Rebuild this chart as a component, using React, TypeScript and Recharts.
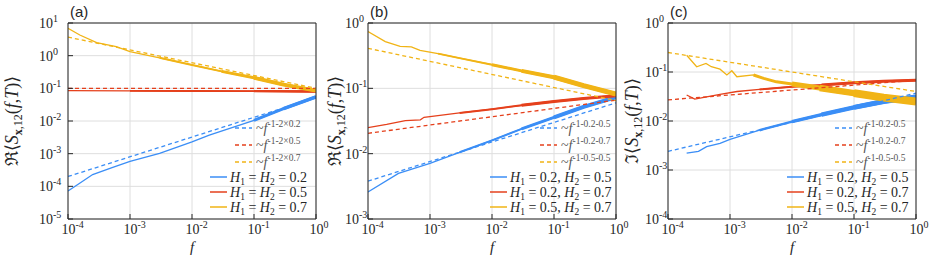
import React from "react";
import { LineChart, Line, XAxis, YAxis, CartesianGrid, Legend } from "recharts";

const BLUE = "#3b8ef6";
const RED = "#e5401c";
const YELLOW = "#f1b416";
const INK = "#262626";
const GRID = "#dedede";
const SERIF = "Liberation Serif, Times New Roman, serif";
const SANS = "Liberation Sans, Arial, sans-serif";

// shared axis ticks
const X_TICKS = [1e-4, 1e-3, 1e-2, 1e-1, 1];
const Y_TICKS_A = [1e-5, 1e-4, 1e-3, 1e-2, 1e-1, 1, 10];
const Y_TICKS_B = [1e-3, 1e-2, 1e-1, 1];
const Y_TICKS_C = [1e-4, 1e-3, 1e-2, 1e-1, 1];
const FIT_F = [1e-4, 1];

// panel (a) : real part, H1 = H2
const A_BLUE_F = [1e-4, 1.5e-4, 2.5e-4, 5e-4, 1e-3, 3e-3, 1e-2, 1.9e-2, 1e-1, 3e-1, 1];
const A_BLUE = [7.2e-5, 1.2e-4, 2.3e-4, 3.7e-4, 5.8e-4, 1.02e-3, 2.3e-3, 3.7e-3, 1.05e-2, 2.4e-2, 5.5e-2];
const A_RED_F = [1e-4, 1e-3, 1e-2, 1e-1, 1];
const A_RED = [0.085, 0.084, 0.083, 0.082, 0.08];
const A_YEL_F = [1e-4, 1.55e-4, 2.9e-4, 6e-4, 1e-3, 3e-3, 1e-2, 3e-2, 1e-1, 3e-1, 1];
const A_YEL = [6.9, 4.3, 2.5, 1.9, 1.32, 0.86, 0.52, 0.33, 0.21, 0.13, 0.085];
const A_FIT_BLUE = [2.0e-4, 0.052];
const A_FIT_RED = [0.1, 0.1];
const A_FIT_YEL = [3.7, 0.1];

// panel (b) : real part, H1 != H2
const B_BLUE_F = [1e-4, 3.1e-4, 1e-3, 3e-3, 1e-2, 3e-2, 1e-1, 3e-1, 1];
const B_BLUE = [2.6e-3, 5e-3, 7.1e-3, 1.05e-2, 1.6e-2, 2.4e-2, 3.6e-2, 5.2e-2, 7.3e-2];
const B_RED_F = [1e-4, 2e-4, 4e-4, 7e-4, 8e-4, 1e-3, 3e-3, 1e-2, 3e-2, 1e-1, 3e-1, 1];
const B_RED = [0.025, 0.028, 0.032, 0.033, 0.036, 0.037, 0.042, 0.048, 0.055, 0.063, 0.07, 0.077];
const B_YEL_F = [1e-4, 1.9e-4, 3.3e-4, 5e-4, 6.9e-4, 1.35e-3, 3e-3, 1e-2, 3e-2, 1e-1, 3e-1, 1];
const B_YEL = [0.74, 0.52, 0.44, 0.43, 0.38, 0.34, 0.29, 0.23, 0.185, 0.148, 0.11, 0.082];
const B_FIT_BLUE = [3.8e-3, 0.06];
const B_FIT_RED = [0.0205, 0.066];
const B_FIT_YEL = [0.41, 0.065];

// panel (c) : imaginary part
const C_BLUE_F = [2e-4, 3.1e-4, 4.2e-4, 6.9e-4, 1e-3, 3e-3, 1e-2, 3e-2, 1e-1, 3e-1, 1];
const C_BLUE = [0.0022, 0.0024, 0.003, 0.0035, 0.0042, 0.0065, 0.0097, 0.0135, 0.019, 0.025, 0.031];
const C_RED_F = [2e-4, 2.7e-4, 4.2e-4, 6.9e-4, 1.3e-3, 3e-3, 1e-2, 3e-2, 1e-1, 3e-1, 1];
const C_RED = [0.034, 0.028, 0.031, 0.035, 0.04, 0.044, 0.05, 0.054, 0.06, 0.065, 0.068];
const C_YEL_F = [2e-4, 2.9e-4, 4.1e-4, 5e-4, 6.9e-4, 8.9e-4, 1.07e-3, 1.29e-3, 2.4e-3, 3.5e-3, 5.6e-3, 1e-2, 2.8e-2, 1e-1, 3e-1, 1];
const C_YEL = [0.22, 0.128, 0.15, 0.128, 0.114, 0.087, 0.106, 0.08, 0.087, 0.074, 0.063, 0.057, 0.047, 0.037, 0.03, 0.025];
const C_FIT_BLUE = [0.0024, 0.037];
const C_FIT_RED = [0.027, 0.068];
const C_FIT_YEL = [0.25, 0.04];

const LABELS_A = ["0.2", "0.5", "0.7"];
const EXP_A = ["-1-2×0.2", "-1-2×0.5", "-1-2×0.7"];
const PAIRS_BC = [["0.2", "0.5"], ["0.2", "0.7"], ["0.5", "0.7"]];
const EXP_BC = ["-1-0.2-0.5", "-1-0.2-0.7", "-1-0.5-0.5"];

type Pt = { f: number; v: number };
const pts = (f: number[], v: number[]): Pt[] => f.map((x, i) => ({ f: x, v: v[i] }));

type Solid = { f: number[]; v: number[]; color: string; tails: [number, number][] };
type Fit = { v: number[]; color: string };

interface PanelDef {
  left: number;
  letter: string;
  part: string;
  yTicks: number[];
  yLabelDx: number;
  titleX: number;
  dashX: number;
  solidX: number;
  solid: Solid[];
  fits: Fit[];
  solidLabels: React.ReactNode[];
  fitLabels: string[];
}

const W = 330;
const H = 256;
const PLOT = { left: 68, right: 316, top: 23, bottom: 219 };

const minorTicks = (lo: number, hi: number) => {
  const out: number[] = [];
  for (let d = lo; d < hi; d++) for (const m of [2, 3, 4, 5, 6, 7, 8, 9]) out.push(m * Math.pow(10, d));
  return out;
};

const expOf = (v: number) => String(Math.round(Math.log10(v)));

const XTick = (props: any) => {
  const { x, y, payload } = props;
  return (
    <text x={x - 6.5} y={y + 15} fontFamily={SERIF} fontSize={14} fill={INK}>
      10
      <tspan dy={-6} fontSize={10}>{expOf(payload.value)}</tspan>
    </text>
  );
};

const YTick = (props: any) => {
  const { x, y, payload, dx } = props;
  return (
    <text x={x - dx} y={y + 5} fontFamily={SERIF} fontSize={14} fill={INK}>
      10
      <tspan dy={-6} fontSize={10}>{expOf(payload.value)}</tspan>
    </text>
  );
};

const hLabel = (a: string) => (
  <>
    <tspan fontStyle="italic">H</tspan>
    <tspan dy={3} fontSize={9.5}>1</tspan>
    <tspan dy={-3}>{" = "}</tspan>
    <tspan fontStyle="italic">H</tspan>
    <tspan dy={3} fontSize={9.5}>2</tspan>
    <tspan dy={-3}>{" = " + a}</tspan>
  </>
);

const hPairLabel = (a: string, b: string) => (
  <>
    <tspan fontStyle="italic">H</tspan>
    <tspan dy={3} fontSize={9.5}>1</tspan>
    <tspan dy={-3}>{" = " + a + ", "}</tspan>
    <tspan fontStyle="italic">H</tspan>
    <tspan dy={3} fontSize={9.5}>2</tspan>
    <tspan dy={-3}>{" = " + b}</tspan>
  </>
);

const PANELS: PanelDef[] = [
  {
    left: 0,
    letter: "(a)",
    part: "ℜ",
    yTicks: Y_TICKS_A,
    yLabelDx: 29,
    titleX: 18,
    dashX: 235,
    solidX: 210,
    solid: [
      { f: A_BLUE_F, v: A_BLUE, color: BLUE, tails: [[2e-2, 2], [1e-1, 3], [3e-1, 3.5]] },
      { f: A_RED_F, v: A_RED, color: RED, tails: [[1e-3, 1.8], [1e-1, 2.3]] },
      { f: A_YEL_F, v: A_YEL, color: YELLOW, tails: [[3e-3, 2], [3e-2, 3], [1e-1, 3.8]] },
    ],
    fits: [
      { v: A_FIT_BLUE, color: BLUE },
      { v: A_FIT_RED, color: RED },
      { v: A_FIT_YEL, color: YELLOW },
    ],
    solidLabels: LABELS_A.map(hLabel),
    fitLabels: EXP_A,
  },
  {
    left: 300,
    letter: "(b)",
    part: "ℜ",
    yTicks: Y_TICKS_B,
    yLabelDx: 23,
    titleX: 41,
    dashX: 240,
    solidX: 190,
    solid: [
      { f: B_BLUE_F, v: B_BLUE, color: BLUE, tails: [[3e-3, 2], [3e-2, 3], [1e-1, 4]] },
      { f: B_RED_F, v: B_RED, color: RED, tails: [[3e-3, 2], [3e-2, 3]] },
      { f: B_YEL_F, v: B_YEL, color: YELLOW, tails: [[1e-3, 2], [1e-2, 3], [3e-2, 4], [1e-1, 5]] },
    ],
    fits: [
      { v: B_FIT_BLUE, color: BLUE },
      { v: B_FIT_RED, color: RED },
      { v: B_FIT_YEL, color: YELLOW },
    ],
    solidLabels: PAIRS_BC.map(([a, b]) => hPairLabel(a, b)),
    fitLabels: EXP_BC,
  },
  {
    left: 600,
    letter: "(c)",
    part: "ℑ",
    yTicks: Y_TICKS_C,
    yLabelDx: 23,
    titleX: 38,
    dashX: 235,
    solidX: 187,
    solid: [
      { f: C_BLUE_F, v: C_BLUE, color: BLUE, tails: [[3e-3, 2.5], [1e-2, 3.5], [3e-2, 4.5], [1e-1, 5]] },
      { f: C_RED_F, v: C_RED, color: RED, tails: [[3e-3, 2], [3e-2, 3]] },
      { f: C_YEL_F, v: C_YEL, color: YELLOW, tails: [[2.4e-3, 3], [1e-2, 5], [2.8e-2, 6.5], [1e-1, 8]] },
    ],
    fits: [
      { v: C_FIT_BLUE, color: BLUE },
      { v: C_FIT_RED, color: RED },
      { v: C_FIT_YEL, color: YELLOW },
    ],
    solidLabels: PAIRS_BC.map(([a, b]) => hPairLabel(a, b)),
    fitLabels: EXP_BC,
  },
];

const DASH_ROWS = [128, 145, 162];
const SOLID_ROWS = [177, 192, 207];

function PanelLegend({ p }: { p: PanelDef }) {
  return (
    <svg width={W} height={H} style={{ position: "absolute", left: 0, top: 0, overflow: "visible" }}>
      {p.fits.map((s, i) => (
        <g key={"d" + i}>
          <line x1={p.dashX} x2={p.dashX + 17} y1={DASH_ROWS[i]} y2={DASH_ROWS[i]} stroke={s.color} strokeWidth={1.3} strokeDasharray="4 3" />
          <text x={p.dashX + 21} y={DASH_ROWS[i] + 5} fontFamily={SERIF} fontSize={14} fill="#555">
            ~<tspan fontStyle="italic">f</tspan>
            <tspan dy={-6} fontSize={9.5}>{p.fitLabels[i]}</tspan>
          </text>
        </g>
      ))}
      {p.solid.map((s, i) => (
        <g key={"s" + i}>
          <line x1={p.solidX} x2={p.solidX + 17} y1={SOLID_ROWS[i]} y2={SOLID_ROWS[i]} stroke={s.color} strokeWidth={1.5} />
          <text x={p.solidX + 20} y={SOLID_ROWS[i] + 5} fontFamily={SERIF} fontSize={14} fill={INK}>
            {p.solidLabels[i]}
          </text>
        </g>
      ))}
    </svg>
  );
}

function Panel({ p }: { p: PanelDef }) {
  const yLo = Math.round(Math.log10(p.yTicks[0]));
  const yHi = Math.round(Math.log10(p.yTicks[p.yTicks.length - 1]));
  const yDomain = [p.yTicks[0], p.yTicks[p.yTicks.length - 1]];
  const xMinor = minorTicks(-4, 0);
  const yMinor = minorTicks(yLo, yHi);
  const cx = (PLOT.left + PLOT.right) / 2;
  const cy = (PLOT.top + PLOT.bottom) / 2;
  return (
    <div style={{ position: "absolute", left: p.left, top: 0, width: W, height: H }}>
      <LineChart width={W} height={H} margin={{ top: 21, right: 12, bottom: 35, left: 66 }}>
        <CartesianGrid stroke={GRID} strokeWidth={1} syncWithTicks />
        <XAxis
          dataKey="f"
          type="number"
          scale="log"
          domain={[1e-4, 1]}
          allowDataOverflow
          ticks={X_TICKS}
          interval={0}
          height={1}
          tickSize={-5}
          tickMargin={5}
          stroke={INK}
          tick={XTick}
        />
        <XAxis xAxisId="bm" type="number" scale="log" domain={[1e-4, 1]} allowDataOverflow ticks={xMinor} interval={0} height={1} tickSize={-2.5} axisLine={false} stroke={INK} tick={false} />
        <XAxis xAxisId="t" orientation="top" type="number" scale="log" domain={[1e-4, 1]} allowDataOverflow ticks={X_TICKS} interval={0} height={1} tickSize={-5} stroke={INK} tick={false} />
        <XAxis xAxisId="tm" orientation="top" type="number" scale="log" domain={[1e-4, 1]} allowDataOverflow ticks={xMinor} interval={0} height={1} tickSize={-2.5} axisLine={false} stroke={INK} tick={false} />
        <YAxis
          type="number"
          scale="log"
          domain={yDomain}
          allowDataOverflow
          ticks={p.yTicks}
          interval={0}
          width={1}
          tickSize={-5}
          tickMargin={5}
          stroke={INK}
          tick={(props: any) => <YTick {...props} dx={p.yLabelDx} />}
        />
        <YAxis yAxisId="lm" type="number" scale="log" domain={yDomain} allowDataOverflow ticks={yMinor} interval={0} width={1} tickSize={-2.5} axisLine={false} stroke={INK} tick={false} />
        <YAxis yAxisId="r" orientation="right" type="number" scale="log" domain={yDomain} allowDataOverflow ticks={p.yTicks} interval={0} width={1} tickSize={-5} stroke={INK} tick={false} />
        <YAxis yAxisId="rm" orientation="right" type="number" scale="log" domain={yDomain} allowDataOverflow ticks={yMinor} interval={0} width={1} tickSize={-2.5} axisLine={false} stroke={INK} tick={false} />
        {p.solid.map((s, i) => {
          const data = pts(s.f, s.v);
          return [
            <Line key={"m" + i} data={data} dataKey="v" type="linear" stroke={s.color} strokeWidth={1.3} dot={false} isAnimationActive={false} legendType="none" />,
            ...s.tails.map(([from, w], j) => (
              <Line
                key={"t" + i + "-" + j}
                data={data.filter((d) => d.f >= from)}
                dataKey="v"
                type="linear"
                stroke={s.color}
                strokeWidth={w}
                strokeLinejoin="round"
                dot={false}
                isAnimationActive={false}
                legendType="none"
              />
            )),
          ];
        })}
        {p.fits.map((s, i) => (
          <Line
            key={"fit" + i}
            data={pts(FIT_F, s.v)}
            dataKey="v"
            type="linear"
            stroke={s.color}
            strokeWidth={1.3}
            strokeDasharray="4 3"
            dot={false}
            isAnimationActive={false}
            legendType="none"
          />
        ))}
        <Legend
          layout="vertical"
          align="center"
          verticalAlign="middle"
          wrapperStyle={{ left: 0, top: 0, width: W, height: H }}
          content={() => <PanelLegend p={p} />}
        />
      </LineChart>
      <svg width={W} height={H} style={{ position: "absolute", left: 0, top: 0, pointerEvents: "none" }}>
        <text x={PLOT.left + 2} y={17} fontFamily={SANS} fontSize={15} fill={INK}>
          {p.letter}
        </text>
        <text x={cx} y={252} textAnchor="middle" fontFamily={SERIF} fontStyle="italic" fontSize={15} fill={INK}>
          f
        </text>
        <text
          x={p.titleX}
          y={cy}
          transform={`rotate(-90 ${p.titleX} ${cy})`}
          textAnchor="middle"
          fontFamily={SERIF}
          fontSize={18}
          fill={INK}
        >
          {p.part}⟨<tspan fontStyle="italic">S</tspan>
          <tspan dy={4} fontSize={12} fontWeight="bold">x</tspan>
          <tspan fontSize={12}>,12</tspan>
          <tspan dy={-4}>(</tspan>
          <tspan fontStyle="italic">f</tspan>,<tspan fontStyle="italic">T</tspan>)⟩
        </text>
      </svg>
    </div>
  );
}

export default function App() {
  return (
    <div style={{ position: "absolute", left: 0, top: 0, width: 930, height: 256, background: "#fff", overflow: "hidden" }}>
      {PANELS.map((p) => (
        <Panel key={p.letter} p={p} />
      ))}
    </div>
  );
}
